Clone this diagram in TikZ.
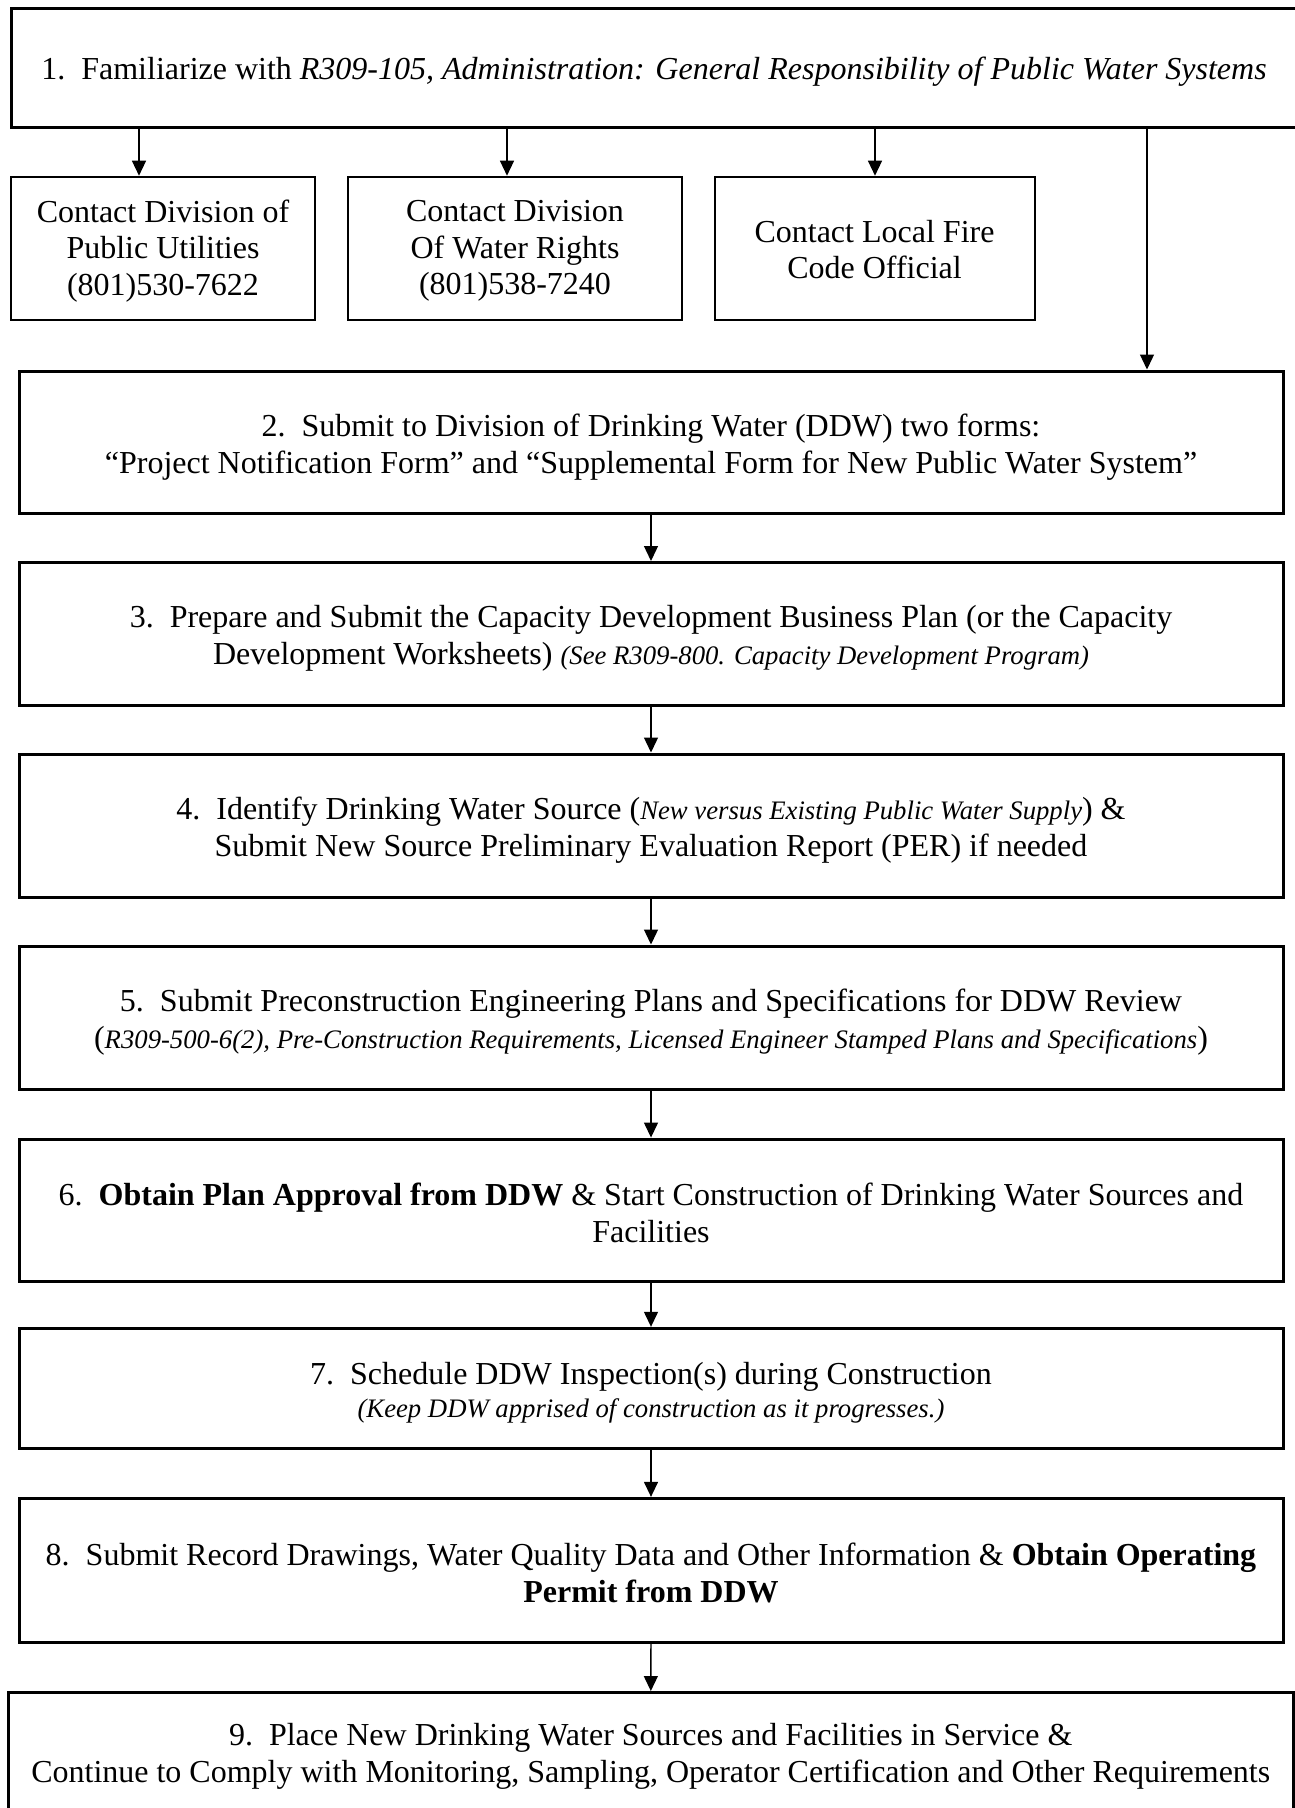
\documentclass[tikz,border=0pt]{standalone}
\usepackage{fontspec}
\setmainfont{Liberation Serif}
\usetikzlibrary{arrows.meta}
\newcommand\smit[1]{{\fontsize{26.7}{30}\selectfont\itshape #1}}
\begin{document}
\begin{tikzpicture}[x=1pt,y=-1pt,
  mainbox/.style={draw, line width=3pt, inner sep=0pt},
  smallbox/.style={draw, line width=2pt, inner sep=0pt},
  maintext/.style={inner sep=0pt, align=center, font=\fontsize{32}{37}\selectfont},
  smalltext/.style={inner sep=0pt, align=center, font=\fontsize{32}{36.7}\selectfont},
  arr/.style={line width=1.3pt, -{Triangle[length=15pt,width=14pt]}}]
\useasboundingbox (0,0) rectangle (1294,1808);

% boxes
\node[mainbox, minimum width=1286pt, minimum height=119pt] (s1) at (654,68.2) {};
\node[smallbox, minimum width=304pt, minimum height=142.8pt] (a) at (163,248.1) {};
\node[smallbox, minimum width=334.6pt, minimum height=142.8pt] (b) at (515,248.1) {};
\node[smallbox, minimum width=320pt, minimum height=142.8pt] (c) at (874.5,248.1) {};
\node[mainbox, minimum width=1264pt, minimum height=142.5pt] (s2) at (651,442.25) {};
\node[mainbox, minimum width=1264pt, minimum height=143pt] (s3) at (651,634) {};
\node[mainbox, minimum width=1264pt, minimum height=143pt] (s4) at (651,825.5) {};
\node[mainbox, minimum width=1264pt, minimum height=143pt] (s5) at (651,1017.5) {};
\node[mainbox, minimum width=1264pt, minimum height=142.3pt] (s6) at (651,1210.2) {};
\node[mainbox, minimum width=1264pt, minimum height=120pt] (s7) at (651,1388.3) {};
\node[mainbox, minimum width=1264pt, minimum height=143.7pt] (s8) at (651,1570.2) {};
\node[mainbox, minimum width=1285.5pt, minimum height=123pt] (s9) at (650.75,1754) {};

% texts
\node[maintext] (t1) at ([yshift=-3.5pt]s1.center)
  {1.\ \ Familiarize with \textit{R309-105, Administration: General Responsibility of Public Water Systems}};
\node[smalltext] (ta) at ([yshift=-3pt]a.center) {Contact Division of\\Public Utilities\\(801)530-7622};
\node[smalltext] (tb) at ([yshift=-3pt]b.center) {Contact Division\\Of Water Rights\\(801)538-7240};
\node[smalltext] (tc) at ([yshift=-1.5pt]c.center) {Contact Local Fire\\Code Official};
\node[maintext] (t2) at ([yshift=-5pt]s2.center)
  {2.\ \ Submit to Division of Drinking Water (DDW) two forms:\\
   “Project Notification Form” and “Supplemental Form for New Public Water System”};
\node[maintext] (t3) at ([yshift=-4.5pt]s3.center)
  {3.\ \ Prepare and Submit the Capacity Development Business Plan (or the Capacity\\
   Development Worksheets) \smit{(See R309-800. Capacity Development Program)}};
\node[maintext] (t4) at ([yshift=-5pt]s4.center)
  {4.\ \ Identify Drinking Water Source (\smit{New versus Existing Public Water Supply}) \&\\
   Submit New Source Preliminary Evaluation Report (PER) if needed};
\node[maintext] (t5) at ([yshift=-5pt]s5.center)
  {5.\ \ Submit Preconstruction Engineering Plans and Specifications for DDW Review\\
   (\smit{R309-500-6(2), Pre-Construction Requirements, Licensed Engineer Stamped Plans and Specifications})};
\node[maintext] (t6) at ([yshift=-2.5pt]s6.center)
  {6.\ \ \textbf{Obtain Plan Approval from DDW} \& Start Construction of Drinking Water Sources and\\
   Facilities};
\node[maintext] (t7) at ([yshift=-4pt]s7.center)
  {7.\ \ Schedule DDW Inspection(s) during Construction\\[-4pt]
   \smit{(Keep DDW apprised of construction as it progresses.)}};
\node[maintext] (t8) at ([yshift=-2.5pt]s8.center)
  {8.\ \ Submit Record Drawings, Water Quality Data and Other Information \& \textbf{Obtain Operating}\\
   \textbf{Permit from DDW}};
\node[maintext] (t9) at ([yshift=-2.5pt]s9.center)
  {9.\ \ Place New Drinking Water Sources and Facilities in Service \&\\
   Continue to Comply with Monitoring, Sampling, Operator Certification and Other Requirements};

% connectors
\coordinate (xa) at (139,0);
\coordinate (xb) at (507,0);
\coordinate (xc) at (875,0);
\coordinate (xd) at (1147,0);
\draw[arr] (s1.south -| xa) -- (a.north -| xa);
\draw[arr] (s1.south -| xb) -- (b.north -| xb);
\draw[arr] (s1.south -| xc) -- (c.north -| xc);
\draw[arr] (s1.south -| xd) -- (s2.north -| xd);
\draw[arr] (s2) -- (s3);
\draw[arr] (s3) -- (s4);
\draw[arr] (s4) -- (s5);
\draw[arr] (s5) -- (s6);
\draw[arr] (s6) -- (s7);
\draw[arr] (s7) -- (s8);
\draw[arr] (s8) -- (s9);
\end{tikzpicture}
\end{document}
